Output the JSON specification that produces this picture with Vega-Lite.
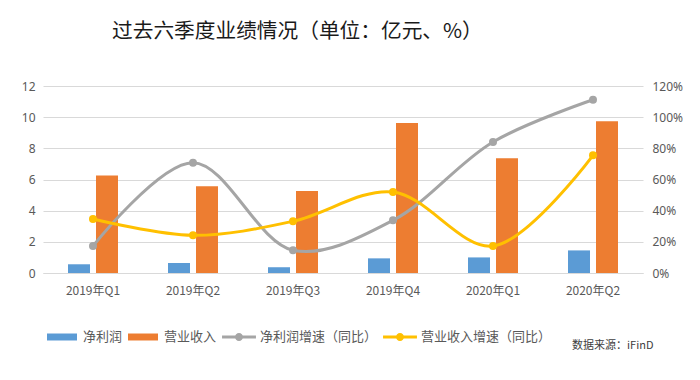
{
  "$schema": "https://vega.github.io/schema/vega-lite/v6.json",
  "width": 600,
  "height": 187,
  "autosize": {"type": "none"},
  "padding": {"left": 43, "top": 86, "right": 57, "bottom": 107},
  "background": "white",
  "config": {
    "font": "Noto Sans CJK SC",
    "view": {"stroke": null}
  },
  "title": {
    "text": "过去六季度业绩情况（单位：亿元、%）",
    "fontSize": 20.7,
    "fontWeight": "normal",
    "color": "#1a1a1a",
    "anchor": "start",
    "frame": "group",
    "dx": 69,
    "baseline": "alphabetic",
    "offset": 21
  },
  "datasets": {
    "bars": [
      {"quarter": "2019年Q1", "series": "净利润", "value": 0.56},
      {"quarter": "2019年Q1", "series": "营业收入", "value": 6.26},
      {"quarter": "2019年Q2", "series": "净利润", "value": 0.64},
      {"quarter": "2019年Q2", "series": "营业收入", "value": 5.56},
      {"quarter": "2019年Q3", "series": "净利润", "value": 0.37},
      {"quarter": "2019年Q3", "series": "营业收入", "value": 5.26},
      {"quarter": "2019年Q4", "series": "净利润", "value": 0.94},
      {"quarter": "2019年Q4", "series": "营业收入", "value": 9.63},
      {"quarter": "2020年Q1", "series": "净利润", "value": 1.0},
      {"quarter": "2020年Q1", "series": "营业收入", "value": 7.37},
      {"quarter": "2020年Q2", "series": "净利润", "value": 1.45},
      {"quarter": "2020年Q2", "series": "营业收入", "value": 9.74}
    ],
    "lines": [
      {"quarter": "2019年Q1", "series": "净利润增速（同比）", "pct": 17.3},
      {"quarter": "2019年Q2", "series": "净利润增速（同比）", "pct": 70.8},
      {"quarter": "2019年Q3", "series": "净利润增速（同比）", "pct": 14.6},
      {"quarter": "2019年Q4", "series": "净利润增速（同比）", "pct": 33.8},
      {"quarter": "2020年Q1", "series": "净利润增速（同比）", "pct": 84.1},
      {"quarter": "2020年Q2", "series": "净利润增速（同比）", "pct": 111.2},
      {"quarter": "2019年Q1", "series": "营业收入增速（同比）", "pct": 34.7},
      {"quarter": "2019年Q2", "series": "营业收入增速（同比）", "pct": 24.2},
      {"quarter": "2019年Q3", "series": "营业收入增速（同比）", "pct": 33.2},
      {"quarter": "2019年Q4", "series": "营业收入增速（同比）", "pct": 52.0},
      {"quarter": "2020年Q1", "series": "营业收入增速（同比）", "pct": 17.3},
      {"quarter": "2020年Q2", "series": "营业收入增速（同比）", "pct": 75.5}
    ]
  },
  "layer": [
    {
      "data": {"name": "bars"},
      "mark": {"type": "bar"},
      "encoding": {
        "x": {
          "field": "quarter",
          "type": "nominal",
          "sort": null,
          "scale": {"paddingInner": 0.5, "paddingOuter": 0.25},
          "title": "数据来源：iFinD",
          "axis": {
            "labelAngle": 0,
            "domain": true,
            "domainColor": "#d9d9d9",
            "domainWidth": 1,
            "ticks": false,
            "labelPadding": 12,
            "labelFontSize": 12,
            "labelColor": "#595959",
            "titleFontSize": 11,
            "titleFontWeight": "normal",
            "titleColor": "#404040",
            "titleAnchor": "end",
            "titleAlign": "right",
            "titleBaseline": "middle",
            "titleX": 610,
            "titleY": 72
          }
        },
        "xOffset": {
          "field": "series",
          "type": "nominal",
          "sort": ["净利润", "营业收入"],
          "scale": {"paddingInner": 0.2143, "paddingOuter": 0}
        },
        "y": {
          "field": "value",
          "type": "quantitative",
          "scale": {"domain": [0, 12], "nice": false},
          "axis": {
            "orient": "left",
            "title": null,
            "values": [0, 2, 4, 6, 8, 10, 12],
            "grid": true,
            "gridColor": "#d9d9d9",
            "domain": false,
            "ticks": false,
            "labelPadding": 8,
            "labelFontSize": 12,
            "labelColor": "#595959",
            "labelFont": "Noto Sans"
          }
        },
        "color": {
          "field": "series",
          "type": "nominal",
          "scale": {
            "domain": ["净利润", "营业收入", "净利润增速（同比）", "营业收入增速（同比）"],
            "range": ["#5b9bd5", "#ed7d31", "#a5a5a5", "#ffc000"]
          },
          "legend": {
            "orient": "none",
            "legendX": 4,
            "legendY": 236,
            "direction": "horizontal",
            "title": null,
            "padding": 0,
            "symbolSize": 900,
            "labelFontSize": 13,
            "labelColor": "#595959",
            "labelOffset": 6,
            "columnPadding": 5,
            "encode": {
              "symbols": {
                "update": {
                  "shape": {"signal": "indexof(['净利润','营业收入'], datum.value) >= 0 ? 'M-1,-0.233H1V0.233H-1Z' : 'M-1.13,-0.1H1.13V0.1H-1.13Z M-0.27,0A0.27,0.27 0 1,1 0.27,0A0.27,0.27 0 1,1 -0.27,0Z'"},
                  "fill": {"scale": "color", "field": "value"},
                  "stroke": {"value": "transparent"},
                  "strokeWidth": {"value": 0},
                  "opacity": {"value": 1},
                  "fillOpacity": {"value": 1}
                }
              }
            }
          }
        }
      }
    },
    {
      "data": {"name": "lines"},
      "mark": {
        "type": "line",
        "interpolate": "catmull-rom",
        "strokeWidth": 3,
        "point": {"filled": true, "size": 64, "opacity": 1}
      },
      "encoding": {
        "x": {"field": "quarter", "type": "nominal", "sort": null},
        "y": {
          "field": "pct",
          "type": "quantitative",
          "scale": {"domain": [0, 120], "nice": false},
          "axis": {
            "orient": "right",
            "title": null,
            "values": [0, 20, 40, 60, 80, 100, 120],
            "labelExpr": "datum.value + '%'",
            "grid": false,
            "domain": false,
            "ticks": false,
            "labelPadding": 9,
            "labelFontSize": 12,
            "labelColor": "#595959",
            "labelFont": "Noto Sans"
          }
        },
        "color": {"field": "series", "type": "nominal"}
      }
    }
  ],
  "resolve": {"scale": {"y": "independent"}}
}
